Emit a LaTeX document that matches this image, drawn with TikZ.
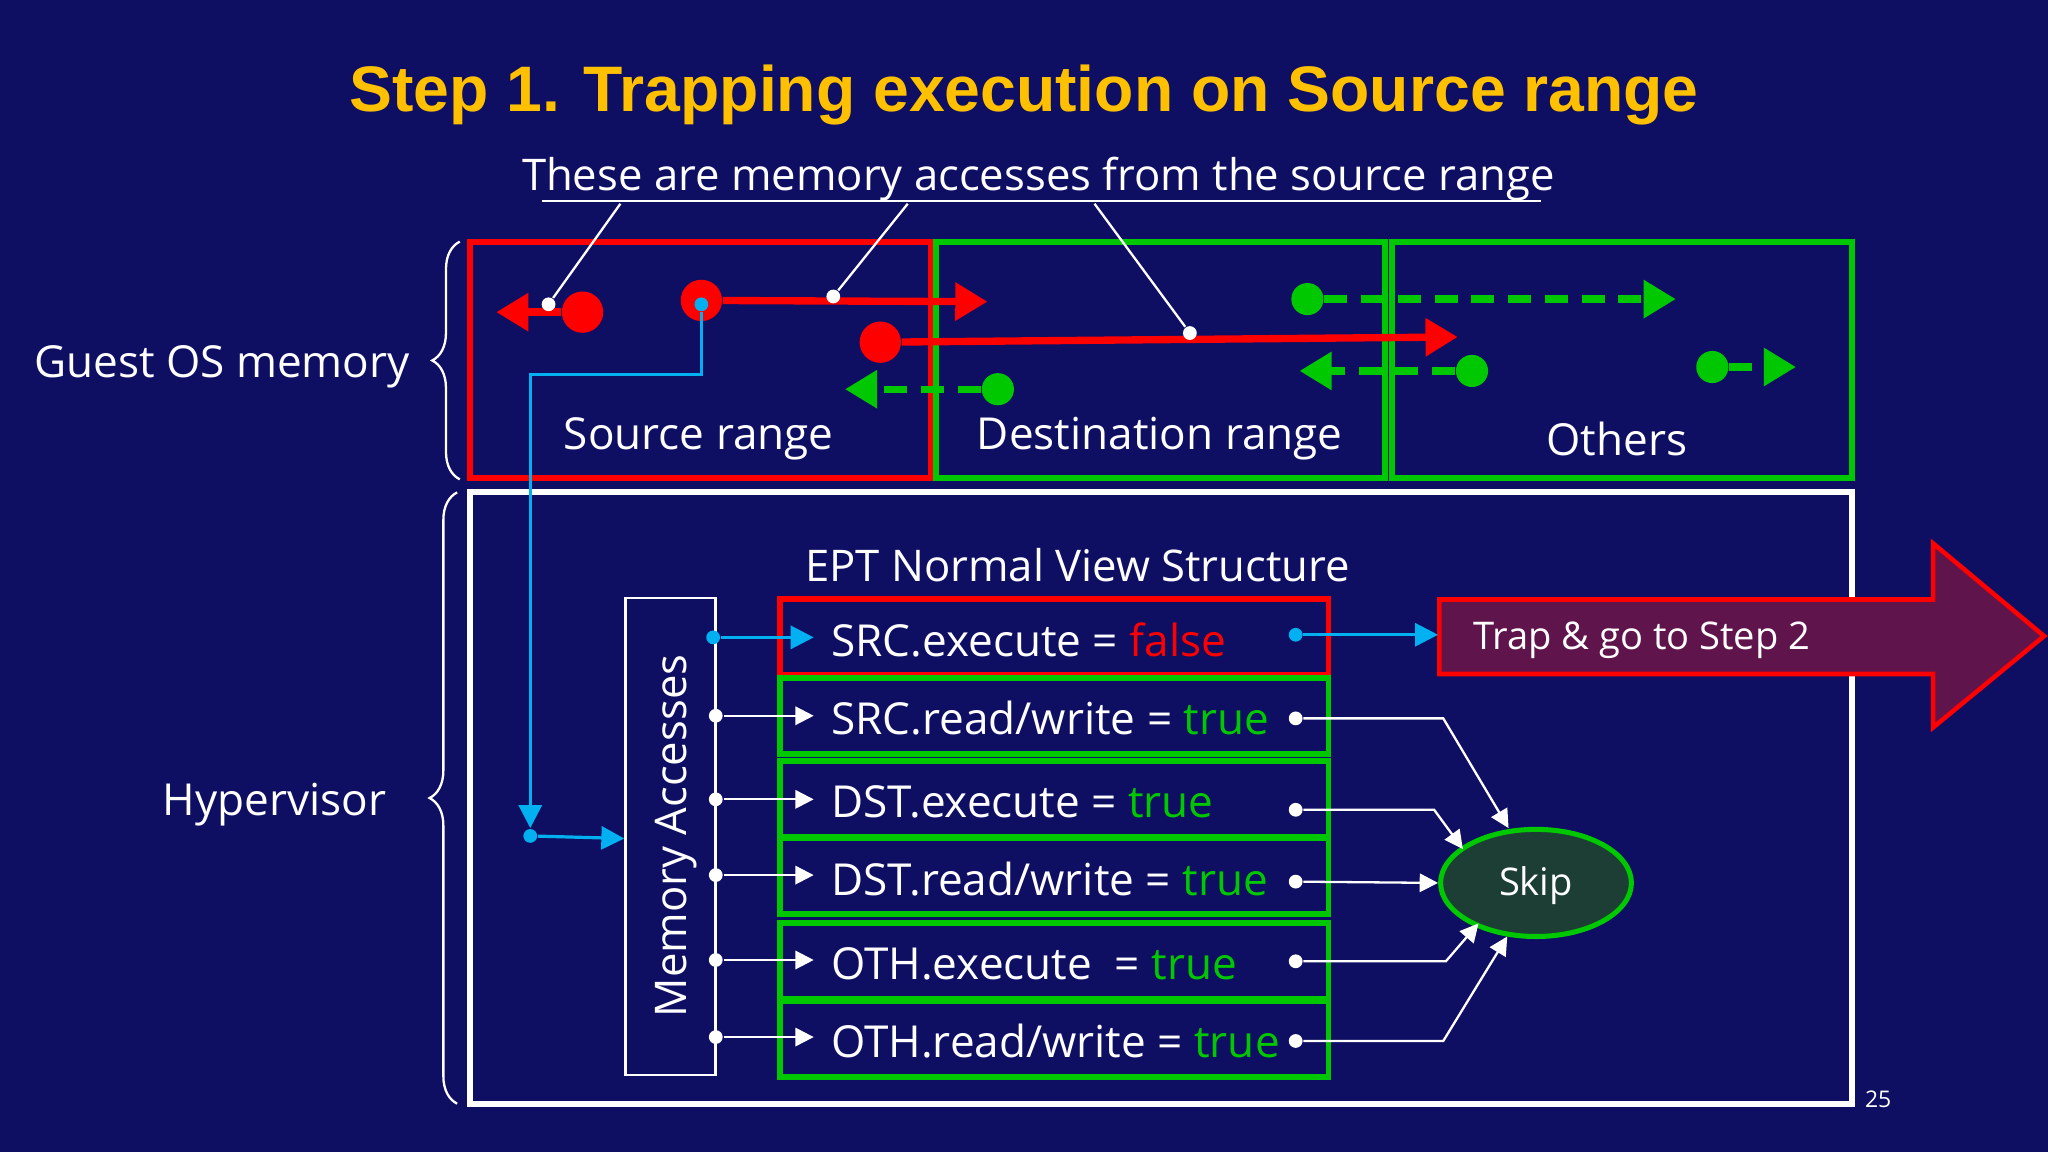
\documentclass[tikz,border=0pt]{standalone}
\usepackage{fontspec}
\setmainfont{Open Sans}
\newfontfamily\titlefont{Liberation Sans}
\usetikzlibrary{arrows.meta,shapes.geometric,decorations.pathreplacing}
\definecolor{bg}{RGB}{14,14,98}
\definecolor{ttl}{RGB}{255,192,0}
\definecolor{rd}{RGB}{255,0,0}
\definecolor{gr}{RGB}{0,200,0}
\definecolor{bl}{RGB}{0,176,240}
\definecolor{trapfill}{RGB}{95,20,75}
\definecolor{skipfill}{RGB}{28,62,52}
\begin{document}
\begin{tikzpicture}[x=0.01cm,y=-0.01cm,
  txt/.style={text=white,font=\fontsize{9.5}{12}\selectfont},
  big/.style={text=white,font=\fontsize{9.6}{12}\selectfont},
  row/.style={draw=gr,line width=1.3pt,minimum width=4.2cm,minimum height=0.58cm,inner sep=0},
  rarr/.style={rd,line width=1.6pt,-{Triangle[length=7pt,width=8pt]}},
  garr/.style={gr,line width=1.6pt,dash pattern=on 5pt off 3pt,-{Triangle[length=7pt,width=8pt]}},
  rdot/.style={circle,fill=rd,inner sep=0,minimum size=7pt},
  gdot/.style={circle,fill=gr,inner sep=0,minimum size=7pt},
  wdot/.style={circle,fill=white,inner sep=0,minimum size=3pt},
  wline/.style={white,line width=0.5pt},
  warr/.style={white,line width=0.5pt,-{Triangle[length=4pt,width=4pt]}},
  barr/.style={bl,line width=0.7pt,-{Triangle[length=5pt,width=5pt]}},
  brace/.style={white,line width=0.5pt,decorate,decoration={brace,amplitude=6pt}}]
\fill[bg] (0,0) rectangle (1568,882);
\useasboundingbox (0,0) rectangle (1568,882);
\node[text=ttl,font=\titlefont\bfseries\fontsize{14}{18}\selectfont] (title) at (784,73) {Step 1. Trapping execution on Source range};
\node[txt] (sub) at (795,137) {These are memory accesses from the source range};
\coordinate (ul1) at (415,154); \coordinate (ul2) at (1180,154);
\draw[wline] (ul1) -- (ul2);
% boxes
\node[draw=rd,line width=1.3pt,minimum width=3.53cm,minimum height=1.81cm,inner sep=0] (src) at (536.5,275.5) {};
\node[draw=gr,line width=1.3pt,minimum width=3.43cm,minimum height=1.81cm,inner sep=0] (dst) at (888.5,275.5) {};
\node[draw=gr,line width=1.3pt,minimum width=3.52cm,minimum height=1.81cm,inner sep=0] (oth) at (1242,275.5) {};
\node[big] (srcl) at (535,336) {Source range};
\node[big] (dstl) at (888,336) {Destination range};
\node[big] (othl) at (1238,336) {Others};
\node[big] (guest) at (170,281) {Guest OS memory};
\draw[brace] (352,367) -- (352,185);
\node[draw=white,line width=1.3pt,minimum width=10.58cm,minimum height=4.68cm,inner sep=0] (hyp) at (889,611) {};
\node[big] (hypl) at (210,616) {Hypervisor};
\draw[brace] (350,845) -- (350,377);
\node[txt] (ept) at (825,433) {EPT Normal View Structure};
\node[draw=white,line width=0.6pt,minimum width=0.69cm,minimum height=3.65cm,inner sep=0] (mem) at (513.5,640.5) {};
\node[txt,rotate=90] (meml) at (518,640) {Memory Accesses};
% rows
\node[row,draw=rd] (r1) at (807,488) {};
\node[row] (r2) at (807,548) {};
\node[row] (r3) at (807,612) {};
\node[row] (r4) at (807,671) {};
\node[row] (r5) at (807,736) {};
\node[row] (r6) at (807,795.5) {};
\node[big,anchor=west] (t1) at (624,490) {SRC.execute = \textcolor{rd}{false}};
\node[big,anchor=west] (t2) at (624,550) {SRC.read/write = \textcolor{gr}{true}};
\node[big,anchor=west] (t3) at (624,614) {DST.execute = \textcolor{gr}{true}};
\node[big,anchor=west] (t4) at (624,673) {DST.read/write = \textcolor{gr}{true}};
\node[big,anchor=west] (t5) at (624,738) {OTH.execute~~= \textcolor{gr}{true}};
\node[big,anchor=west] (t6) at (624,797) {OTH.read/write = \textcolor{gr}{true}};
\foreach \i/\y in {2/548,3/612,4/670,5/735,6/794}{
  \node[wdot] (a\i) at (548,\y) {};
  \coordinate (b\i) at (623,\y);
  \draw[warr] (a\i) -- (b\i);
}
\node[circle,fill=bl,inner sep=0,minimum size=3pt] (a1) at (546,488) {};
\coordinate (b1) at (623,488);
\draw[barr] (a1) -- (b1);
% trap arrow
\path[draw=rd,fill=trapfill,line width=1pt] (1102,459) -- (1480,459) -- (1480,416) -- (1565,487) -- (1480,557) -- (1480,516) -- (1102,516) -- cycle;
\node[text=white,font=\fontsize{8.3}{10}\selectfont] (trap) at (1257,490) {Trap \& go to Step 2};
\coordinate (trapin) at (1101,486);
\node[circle,fill=bl,inner sep=0,minimum size=3pt] (d1) at (992,486) {};
\draw[barr] (d1) -- (trapin);
% skip
\node[ellipse,draw=gr,fill=skipfill,line width=1.1pt,minimum width=1.46cm,minimum height=0.82cm] (skip) at (1176,676) {};
\node[text=white,font=\fontsize{8.3}{10}\selectfont] (skipl) at (1176,678) {Skip};
\foreach \i/\y in {2/550,3/620,4/675,5/736,6/797}{\node[wdot] (d\i) at (992,\y) {};}
\draw[warr] (d2) -- (1105,550) -- (1155,634);
\draw[warr] (d3) -- (1098,620) -- (1120,650);
\draw[warr] (d4) -- (skip.west);
\draw[warr] (d5) -- (1107,736) -- (1132,707);
\draw[warr] (d6) -- (1105,797) -- (1154,717);
% top arrows
\node[rdot,minimum size=9pt] (rd1) at (446,239) {};
\coordinate (rt1) at (380,239);
\draw[rarr] (rd1) -- (rt1);
\node[rdot,minimum size=9pt] (rd2) at (537,230) {};
\coordinate (rt2) at (756,231);
\draw[rarr] (rd2) -- (rt2);
\node[rdot,minimum size=9pt] (rd3) at (674,262) {};
\coordinate (rt3) at (1116,258);
\draw[rarr] (rd3) -- (rt3);
\node[gdot] (g1) at (1001,229) {}; \coordinate (gt1) at (1283,229); \draw[garr] (g1) -- (gt1);
\node[gdot] (g2) at (764,298) {}; \coordinate (gt2) at (647,298); \draw[garr] (g2) -- (gt2);
\node[gdot] (g3) at (1127,284) {}; \coordinate (gt3) at (995,284); \draw[garr] (g3) -- (gt3);
\node[gdot] (g4) at (1311,281) {}; \coordinate (gt4) at (1375,281); \draw[garr] (g4) -- (gt4);
% callouts
\node[wdot] (w1) at (420,233) {};
\node[wdot] (w2) at (638,227) {};
\node[wdot] (w3) at (911,255) {};
\draw[wline] (475,156) -- (w1);
\draw[wline] (695,156) -- (w2);
\draw[wline] (838,156) -- (w3);
% blue path
\node[circle,fill=bl,inner sep=0,minimum size=3pt] (bs) at (537,233) {};
\node[circle,fill=bl,inner sep=0,minimum size=3pt] (bc) at (406,640) {};
\draw[barr] (bs) -- (537,287) -- (406,287) -- (bc);
\coordinate (memin) at (478,642);
\draw[barr] (bc) -- (memin);
\node[text=white,font=\fontsize{5}{6}\selectfont] (pg) at (1438,842) {25};
\end{tikzpicture}
\end{document}
